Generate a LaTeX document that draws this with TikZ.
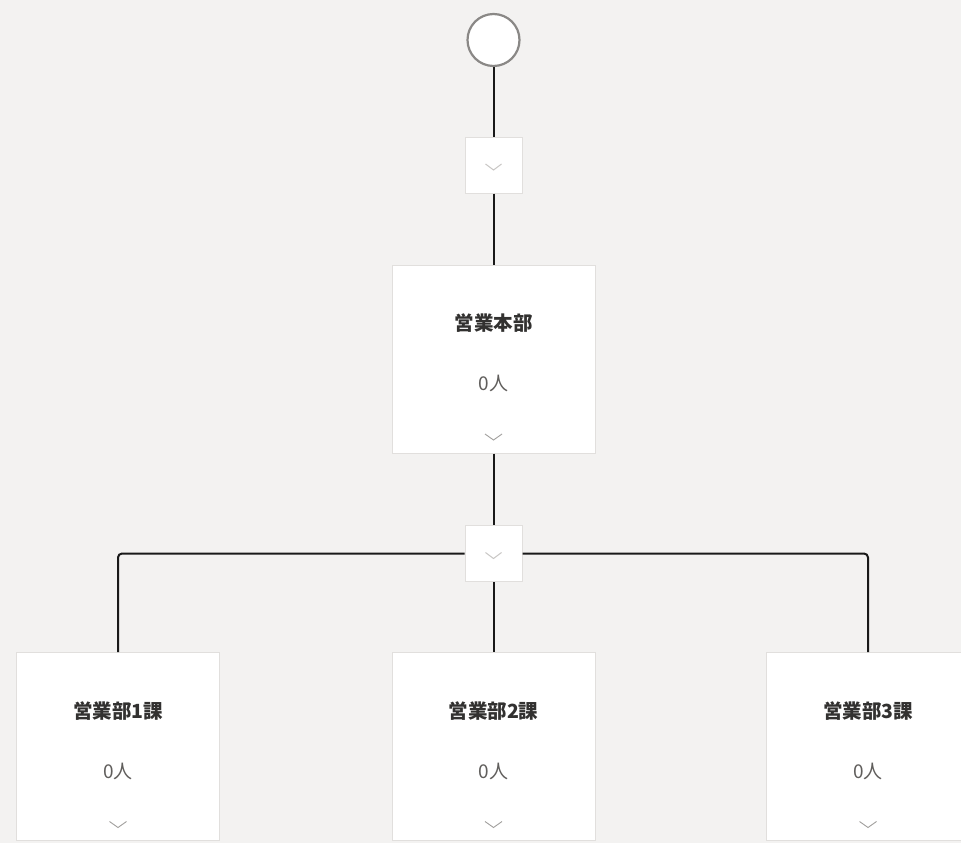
\documentclass[tikz,border=0pt]{standalone}
\usepackage{fontspec}
\setmainfont{Noto Sans CJK JP}
\usetikzlibrary{calc}
\definecolor{bg}{HTML}{F3F2F1}
\definecolor{bd}{HTML}{E1DFDD}
\definecolor{ttl}{HTML}{323130}
\definecolor{cnt}{HTML}{605E5C}
\definecolor{chv}{HTML}{A19F9D}
\definecolor{chvl}{HTML}{C8C6C4}
\definecolor{ring}{HTML}{8A8886}
\begin{document}
\begin{tikzpicture}[x=1pt,y=-1pt,
 card/.style={draw=bd,fill=white,line width=1pt,minimum width=203pt,minimum height=188pt,inner sep=0pt},
 toggle/.style={draw=bd,fill=white,line width=1pt,minimum width=57pt,minimum height=56pt,inner sep=0pt},
 link/.style={line width=2pt,black!90},
 chev/.style={draw=chv,line width=0.9pt},
 chevl/.style={draw=chvl,line width=1pt},
 ttltext/.style={font=\bfseries\fontsize{19.5}{22}\selectfont,text=ttl,inner sep=0pt,anchor=center},
 cnttext/.style={font=\fontsize{19}{22}\selectfont,text=cnt,inner sep=0pt}]
\useasboundingbox (0,0) rectangle (961,843);
\fill[bg] (0,0) rectangle (961,843);
\clip (0,0) rectangle (961,843);
\node[circle,draw=ring,fill=white,line width=2.2pt,minimum size=52pt,inner sep=0pt] (root) at (493.5,40) {};
\node[toggle] (t1) at (493.5,165) {};
\node[card] (main) at (493.5,359) {};
\node[toggle] (t2) at (493.5,553.5) {};
\node[card] (c1) at (118,746.5) {};
\node[card] (c2) at (493.5,746.5) {};
\node[card] (c3) at (868,746.5) {};
\node[ttltext] (mainT) at (493.5,323) {営業本部};
\node[cnttext] (mainN) at (493.5,383) {0人};
\node[ttltext] (c1T) at (118,711) {営業部1課};
\node[cnttext] (c1N) at (118,771) {0人};
\node[ttltext] (c2T) at (493.5,711) {営業部2課};
\node[cnttext] (c2N) at (493.5,771) {0人};
\node[ttltext] (c3T) at (868,711) {営業部3課};
\node[cnttext] (c3N) at (868,771) {0人};
\foreach \n in {main,c1,c2,c3}{
  \draw[chev] ($(\n.center)+(-8.5,75)$) -- ++(8.5,6) -- ++(8.5,-6);
}
\foreach \n in {t1,t2}{
  \draw[chevl] ($(\n.center)+(-8,-1)$) -- ++(8,6) -- ++(8,-6);
}
\draw[link] (root.south) -- (t1.north);
\draw[link] (t1.south) -- (main.north);
\draw[link] (main.south) -- (t2.north);
\draw[link] (t2.south) -- (c2.north);
\draw[link,rounded corners=4pt] (t2.west) -| (c1.north);
\draw[link,rounded corners=4pt] (t2.east) -| (c3.north);
\end{tikzpicture}
\end{document}
